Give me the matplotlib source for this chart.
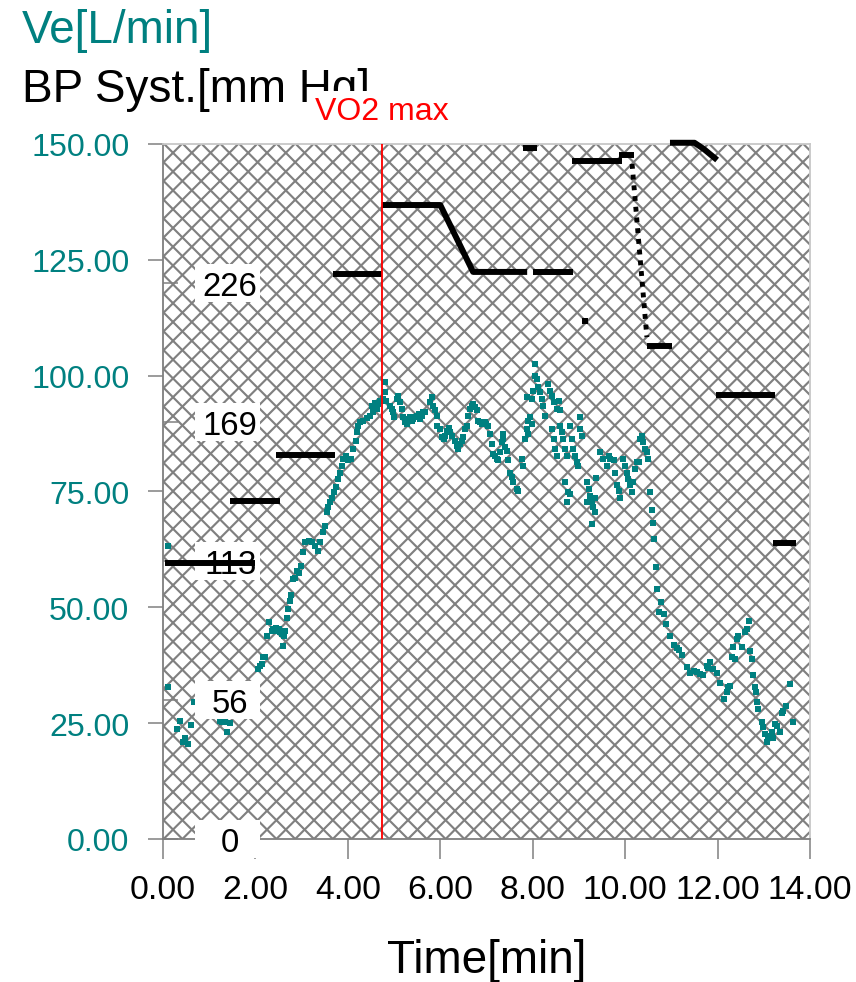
import numpy as np
import matplotlib
matplotlib.use("Agg")
import matplotlib.pyplot as plt
from matplotlib.patches import Rectangle
from matplotlib.collections import LineCollection
from matplotlib.transforms import blended_transform_factory

plt.rcParams['font.family'] = ['Liberation Sans', 'DejaVu Sans']

# ---------------- data ----------------
ve_time = [0.11, 0.11, 0.30, 0.37, 0.43, 0.48, 0.55, 0.61, 0.66, 1.23, 1.27, 1.34, 1.39, 1.45,
           1.95, 2.01, 2.06, 2.10, 2.14, 2.17, 2.21, 2.24, 2.29, 2.35, 2.39, 2.42, 2.45, 2.50,
           2.53, 2.57, 2.60, 2.62, 2.64, 2.68, 2.71, 2.75, 2.78, 2.82, 2.86, 2.89, 2.95, 2.98,
           3.02, 3.07, 3.15, 3.22, 3.29, 3.36, 3.40, 3.47, 3.51, 3.54, 3.58, 3.61, 3.65, 3.70,
           3.74, 3.79, 3.83, 3.87, 3.90, 3.96, 4.01, 4.06, 4.12, 4.18, 4.19, 4.23, 4.26, 4.33,
           4.41, 4.48, 4.52, 4.55, 4.59, 4.62, 4.66, 4.70, 4.77, 4.80, 4.80, 4.83, 4.91, 4.95,
           4.98, 5.00, 5.06, 5.09, 5.13, 5.17, 5.20, 5.24, 5.27, 5.31, 5.35, 5.38, 5.42, 5.45,
           5.49, 5.53, 5.56, 5.60, 5.63, 5.67, 5.78, 5.81, 5.85, 5.89, 5.92, 5.92, 5.99, 6.03,
           6.07, 6.10, 6.14, 6.18, 6.21, 6.25, 6.32, 6.36, 6.39, 6.43, 6.47, 6.50, 6.54, 6.58,
           6.61, 6.64, 6.68, 6.71, 6.75, 6.79, 6.82, 6.86, 6.90, 6.93, 6.97, 7.00, 7.04, 7.08,
           7.11, 7.15, 7.18, 7.22, 7.25, 7.29, 7.33, 7.35, 7.36, 7.40, 7.44, 7.47, 7.51, 7.55,
           7.58, 7.66, 7.69, 7.76, 7.80, 7.83, 7.87, 7.87, 7.90, 7.90, 7.94, 7.98, 7.98, 8.01,
           8.05, 8.05, 8.09, 8.12, 8.16, 8.20, 8.23, 8.27, 8.34, 8.38, 8.41, 8.42, 8.45, 8.45,
           8.48, 8.52, 8.53, 8.56, 8.59, 8.60, 8.63, 8.66, 8.70, 8.70, 8.74, 8.74, 8.77, 8.81,
           8.81, 8.84, 8.88, 8.92, 8.95, 8.99, 9.02, 9.02, 9.06, 9.17, 9.17, 9.21, 9.24, 9.28,
           9.28, 9.31, 9.35, 9.35, 9.38, 9.46, 9.53, 9.61, 9.64, 9.68, 9.75, 9.78, 9.82, 9.86,
           9.89, 9.96, 10.00, 10.03, 10.07, 10.11, 10.14, 10.18, 10.21, 10.25, 10.29, 10.32,
           10.36, 10.39, 10.43, 10.47, 10.50, 10.54, 10.58, 10.60, 10.63, 10.67, 10.68, 10.73,
           10.78, 10.83, 10.88, 10.97, 11.06, 11.12, 11.17, 11.23, 11.33, 11.40, 11.48, 11.55,
           11.62, 11.69, 11.77, 11.80, 11.84, 11.91, 11.98, 12.05, 12.13, 12.20, 12.23, 12.27,
           12.31, 12.34, 12.38, 12.41, 12.45, 12.52, 12.59, 12.63, 12.67, 12.70, 12.74, 12.76,
           12.81, 12.83, 12.85, 12.88, 12.96, 12.99, 13.03, 13.06, 13.10, 13.17, 13.21, 13.24,
           13.28, 13.35, 13.39, 13.42, 13.49, 13.57, 13.63]
ve_value = [63.2, 32.7, 23.7, 25.5, 20.9, 21.8, 20.5, 24.7, 29.5, 25.5, 25.3, 25.2, 23.2, 25.0,
            29.1, 32.7, 36.7, 37.4, 37.8, 39.2, 39.2, 43.9, 46.8, 45.0, 45.3, 45.0, 45.5, 45.3,
            44.6, 44.2, 41.7, 43.8, 45.0, 47.8, 49.6, 51.4, 52.7, 56.1, 56.4, 57.9, 57.5, 59.0,
            61.9, 64.0, 64.4, 64.0, 63.3, 62.2, 64.0, 66.2, 67.6, 70.5, 71.6, 72.7, 73.7, 74.8,
            75.9, 77.7, 79.1, 80.6, 82.0, 82.7, 81.7, 82.0, 84.2, 86.0, 87.8, 89.2, 89.9, 90.3,
            90.8, 91.4, 93.5, 92.1, 94.2, 92.8, 93.9, 94.6, 95.0, 98.6, 96.4, 94.6, 93.5, 92.8,
            92.1, 91.0, 95.0, 95.7, 94.3, 92.8, 91.0, 89.9, 89.6, 90.7, 91.0, 90.3, 90.7, 91.0,
            91.4, 91.7, 90.7, 91.4, 92.1, 92.1, 94.3, 95.3, 93.5, 92.5, 91.4, 89.2, 88.5, 86.7,
            86.3, 87.0, 88.1, 88.8, 87.8, 87.0, 86.0, 84.9, 84.2, 85.3, 86.0, 86.7, 88.5, 89.2,
            91.4, 92.8, 93.5, 93.9, 93.2, 92.5, 90.3, 89.9, 89.6, 89.9, 89.9, 89.6, 89.2, 87.4,
            85.3, 83.1, 82.7, 82.0, 81.7, 83.5, 85.6, 87.4, 86.3, 84.5, 83.8, 81.7, 79.1, 78.1,
            77.0, 75.5, 75.2, 82.0, 80.6, 86.3, 88.5, 95.3, 90.3, 87.4, 91.0, 89.6, 95.0, 96.7,
            100.0, 102.5, 99.3, 97.5, 96.4, 95.0, 93.5, 91.4, 98.2, 96.7, 88.5, 95.7, 94.3, 86.3,
            84.2, 82.7, 92.8, 94.6, 89.2, 92.5, 87.8, 86.3, 84.2, 77.0, 82.7, 72.7, 74.8, 89.2,
            74.5, 86.3, 84.2, 82.7, 81.3, 80.6, 91.0, 88.5, 87.0, 77.0, 72.7, 75.5, 74.1, 72.7,
            68.0, 71.6, 73.7, 70.5, 78.0, 83.5, 82.0, 80.6, 82.7, 82.0, 81.7, 79.1, 76.3, 75.2,
            73.7, 82.0, 80.6, 79.1, 77.7, 76.3, 74.8, 77.0, 79.9, 81.3, 81.3, 86.3,
            87.0, 85.6, 84.2, 83.5, 82.0, 74.8, 70.9, 68.3, 64.8, 58.6, 54.0, 49.1,
            51.2, 48.6, 46.3, 43.9, 41.9, 41.3, 40.8, 39.7, 37.2, 35.9, 36.3, 36.1,
            35.6, 35.3, 37.4, 37.0, 38.1, 36.7, 35.9, 33.7, 30.2, 31.7, 32.7, 33.1,
            39.2, 41.4, 38.9, 43.2, 43.9, 41.4, 44.6, 45.3, 47.1, 40.6, 38.9, 35.3,
            32.7, 31.7, 29.5, 28.1, 25.2, 24.1, 22.7, 20.9, 22.3, 23.0, 21.9, 24.8,
            24.4, 23.0, 27.3, 27.6, 28.8, 33.5, 25.2]

# Systolic blood pressure: solid pieces
bp_seg_time = [[0.05, 1.98], [1.45, 2.53], [2.45, 3.72], [3.68, 4.74],
               [4.74, 6.00, 6.71, 7.88], [8.01, 8.87], [7.80, 8.10],
               [8.85, 9.93], [9.87, 10.19], [10.47, 11.01],
               [10.97, 11.50, 11.70, 11.99], [11.97, 13.25], [13.20, 13.70]]
bp_seg_value = [[112.0, 112.0], [137.4, 137.4], [156.0, 156.0], [229.7, 229.7],
                [257.7, 257.7, 230.5, 230.5], [230.5, 230.5], [280.9, 280.9],
                [275.6, 275.6], [278.0, 278.0], [200.4, 200.4],
                [283.0, 283.0, 280.5, 276.0], [180.5, 180.5], [120.3, 120.3]]
# dotted drop and single reading
bp_dot_time = [10.15, 10.47]
bp_dot_value = [274.4, 204.0]
bp_point_time = [9.13]
bp_point_value = [210.6]

vo2max_time = 4.74

ve_ticks = [0, 25, 50, 75, 100, 125, 150]
time_ticks = [0, 2, 4, 6, 8, 10, 12, 14]
bp_ticks = [0, 56.5, 113, 169.5, 226]
bp_tick_labels = ['0', '56', '113', '169', '226']

# ---------------- style ----------------
TEAL = '#008080'
GRAY = '#808080'
DPI = 110
W, H = 856, 983
AXW, AXH = 810 - 163, 840 - 145

fig = plt.figure(figsize=(W / DPI, H / DPI), dpi=DPI)
ax = fig.add_axes([163 / W, 1 - 840 / H, AXW / W, AXH / H])
ax.set_facecolor('white')

# diagonal cross-hatched background (45 degree lines in pixel space)
step = 18.8
offsets = np.arange(-AXH - step, AXW + AXH + step, step)
segs = []
for c in offsets:
    x0, x1 = -AXH, AXW + AXH
    segs.append([(x0 / AXW, (x0 - c) / AXH), (x1 / AXW, (x1 - c) / AXH)])
    segs.append([(x0 / AXW, (c - x0) / AXH), (x1 / AXW, (c - x1) / AXH)])
ax.add_collection(LineCollection(segs, colors=GRAY, linewidths=1.4,
                                 transform=ax.transAxes, zorder=0.5))

ax.plot(ve_time, ve_value, ls='none', marker='s', ms=3.7, mew=0, color=TEAL, zorder=2)

ax.set_xlim(0, 14)
ax.set_ylim(0, 150)
ax.set_xticks(time_ticks)
ax.set_xticklabels(['%.2f' % t for t in time_ticks])
ax.set_yticks(ve_ticks)
ax.set_yticklabels(['%.2f' % v for v in ve_ticks])
ax.tick_params(axis='y', direction='out', length=10, width=1, color=GRAY,
               labelcolor=TEAL, labelsize=21, pad=12)
ax.tick_params(axis='x', direction='out', length=13, width=1, color=GRAY,
               labelcolor='black', labelsize=22, pad=10)
for s in ('left', 'bottom'):
    ax.spines[s].set_color(GRAY)
    ax.spines[s].set_linewidth(1.2)
for s in ('top', 'right'):
    ax.spines[s].set_color('#c8c8c8')
    ax.spines[s].set_linewidth(1.2)

# secondary (BP) axis, ticks on the left inside the plot
ax2 = ax.twinx()
ax2.set_ylim(0, 282.5)
ax2.set_yticks(bp_ticks)
ax2.set_yticklabels(bp_tick_labels)
ax2.yaxis.set_ticks_position('left')
ax2.yaxis.set_label_position('left')
ax2.tick_params(axis='y', direction='in', length=10, width=1, color=GRAY,
                labelcolor='black', labelsize=21.5, pad=-44)
for lab in ax2.get_yticklabels():
    lab.set_horizontalalignment('center')
for s in ax2.spines.values():
    s.set_visible(False)

# white label boxes behind BP tick labels
box_tr = blended_transform_factory(ax2.transAxes, ax2.transData)
for v in bp_ticks:
    ax2.add_patch(Rectangle((32 / AXW, v - 7.7), 65 / AXW, 15.4, transform=box_tr,
                            facecolor='white', edgecolor='none', zorder=1, clip_on=False))

for tx, vy in zip(bp_seg_time, bp_seg_value):
    ax2.plot(tx, vy, color='black', lw=3.9, solid_capstyle='butt',
             solid_joinstyle='round', clip_on=False, zorder=2)
ax2.plot(bp_dot_time, bp_dot_value, color='black', lw=3.2, ls=(0, (1, 1.2)),
         dash_capstyle='butt', zorder=2)
ax2.plot(bp_point_time, bp_point_value, ls='none', marker='s', ms=3.8, mew=0,
         color='black', zorder=2)

ax2.axvline(vo2max_time, color='red', lw=1.2, zorder=3)

# titles
fig.text(22 / W, 1 - 43 / H, 'Ve[L/min]', color=TEAL, fontsize=30, va='baseline', ha='left')
fig.text(22 / W, 1 - 102 / H, 'BP Syst.[mm Hg]', color='black', fontsize=30,
         va='baseline', ha='left', zorder=3)
fig.text(vo2max_time, 1 - 120 / H, 'VO2 max', color='red', fontsize=21, ha='center',
         va='baseline', zorder=4,
         transform=blended_transform_factory(ax.transData, fig.transFigure),
         bbox=dict(facecolor='white', edgecolor='none', boxstyle='square,pad=0.15'))
fig.text((163 + 810) / 2 / W, 1 - 973 / H, 'Time[min]', color='black', fontsize=30,
         ha='center', va='baseline')

fig.savefig('out.png', dpi=DPI, facecolor='white')
